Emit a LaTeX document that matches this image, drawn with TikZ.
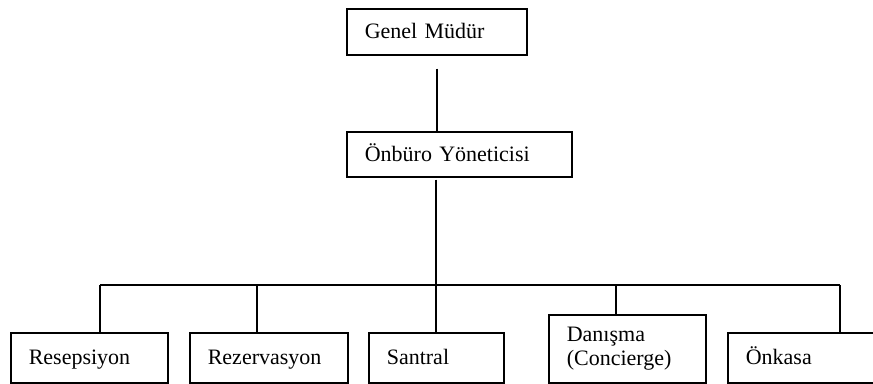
\documentclass[tikz,border=0pt]{standalone}
\usepackage{fontspec}
\setmainfont{Liberation Serif}
\tikzset{
  unit/.style={draw, line width=1.2pt, anchor=north west, align=left,
    inner xsep=13.5pt, inner ysep=0pt, minimum height=37.5pt,
    font=\fontsize{16.5}{18}\selectfont},
  oneline/.style={text height=10.5pt, text depth=0pt},
  link/.style={line width=1.2pt}
}
\begin{document}
\begin{tikzpicture}[x=0.75pt,y=-0.75pt]
      \clip (0,0) rectangle (873,383);
      \draw
        (346,8) node[unit, oneline, text width=108pt, minimum height=34.5pt] (gm){Genel Müdür}
        (346,131) node[unit, oneline, text width=141.75pt, minimum height=33.75pt] (on){Önbüro Yöneticisi}
        (10,332) node[unit, oneline, text width=90.75pt] (res){Resepsiyon}
        (189,332) node[unit, oneline, text width=91.5pt] (rez){Rezervasyon}
        (368,332) node[unit, oneline, text width=74.25pt] (san){Santral}
        (548,314) node[unit, text width=90.75pt, minimum height=51pt] (dan){Danışma\\(Concierge)}
        (727,332) node[unit, oneline, text width=96pt] (onk){Önkasa};
      \coordinate (trunk) at (436,285);
      \coordinate (b1) at (100,285);
      \coordinate (b2) at (257,285);
      \coordinate (b4) at (616,285);
      \coordinate (b5) at (840,285);
      \begin{scope}[link]
        \draw[shorten <=9.75pt] (gm) -- (gm |- on.north);
        \draw[shorten <=1.5pt] (trunk |- on.south) -- (trunk);
        \draw (b1) -- (b5);
        \draw (b1) -- (b1 |- res.north);
        \draw (b2) -- (b2 |- rez.north);
        \draw (trunk) -- (trunk |- san.north);
        \draw (b4) -- (b4 |- dan.north);
        \draw (b5) -- (b5 |- onk.north);
      \end{scope}
    \end{tikzpicture}
\end{document}
